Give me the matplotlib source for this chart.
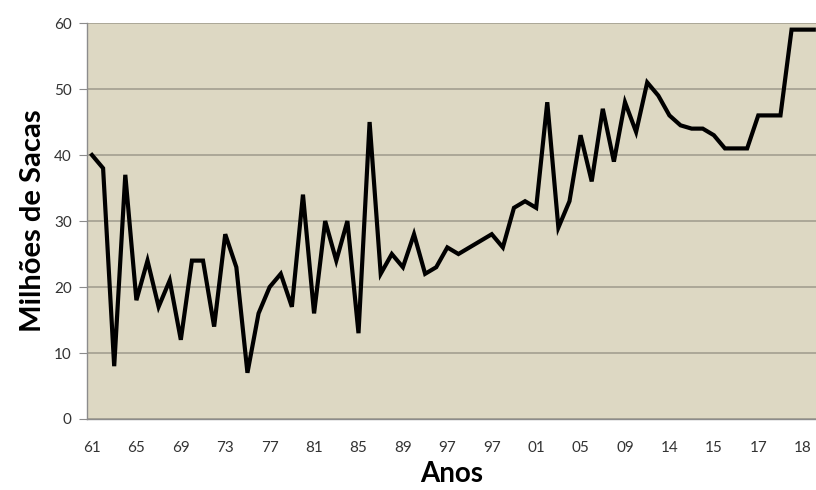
import matplotlib
matplotlib.use('agg')
import matplotlib.pyplot as plt

# Produção (milhões de sacas) por ano
valores = [40, 38, 8, 37, 18, 24, 17, 21, 12, 24,
           24, 14, 28, 23, 7, 16, 20, 22, 17, 34,
           16, 30, 24, 30, 13, 45, 22, 25, 23, 28,
           22, 23, 26, 25, 26, 27, 28, 26, 32, 33,
           32, 48, 29, 33, 43, 36, 47, 39, 48, 43.5,
           51, 49, 46, 44.5, 44, 44, 43, 41, 41, 41,
           46, 46, 46, 59, 59, 59]

rotulos_x = ['61', '65', '69', '73', '77', '81', '85', '89', '97',
             '97', '01', '05', '09', '14', '15', '17', '18']
yticks = [0, 10, 20, 30, 40, 50, 60]

plt.rcParams['font.family'] = ['Lato', 'DejaVu Sans']

fig = plt.figure(figsize=(8.16, 4.90), dpi=100)
ax = fig.add_axes([0.1066, 0.1449, 0.8934, 0.8081])
ax.set_facecolor('#DDD8C3')

x = list(range(len(valores)))
ax.plot(x, valores, color='black', linewidth=3.0, solid_joinstyle='miter')

ax.set_ylim(0, 60)
ax.set_xlim(-0.45, 65.2)
ax.set_yticks(yticks)
ax.set_xticks(range(0, 4 * len(rotulos_x), 4))
ax.set_xticklabels(rotulos_x)

ax.yaxis.grid(True, color='#9E9A8C', linewidth=1.1)
ax.set_axisbelow(True)

for lado in ['top', 'right']:
	ax.spines[lado].set_visible(False)
ax.spines['left'].set_color('#8C8C8C')
ax.spines['bottom'].set_color('#8C8C8C')
ax.spines['left'].set_linewidth(1)
ax.spines['bottom'].set_linewidth(1)

ax.tick_params(axis='y', length=6, color='#8C8C8C', labelsize=11, pad=5, labelcolor='#333333')
ax.tick_params(axis='x', length=0, labelsize=11, pad=16, labelcolor='#333333')

ax.set_xlabel('Anos', fontsize=20, fontweight='bold', labelpad=4)
ax.set_ylabel('Milhões de Sacas', fontsize=21, fontweight='bold', labelpad=6)

plt.savefig('out.png', dpi=100)
